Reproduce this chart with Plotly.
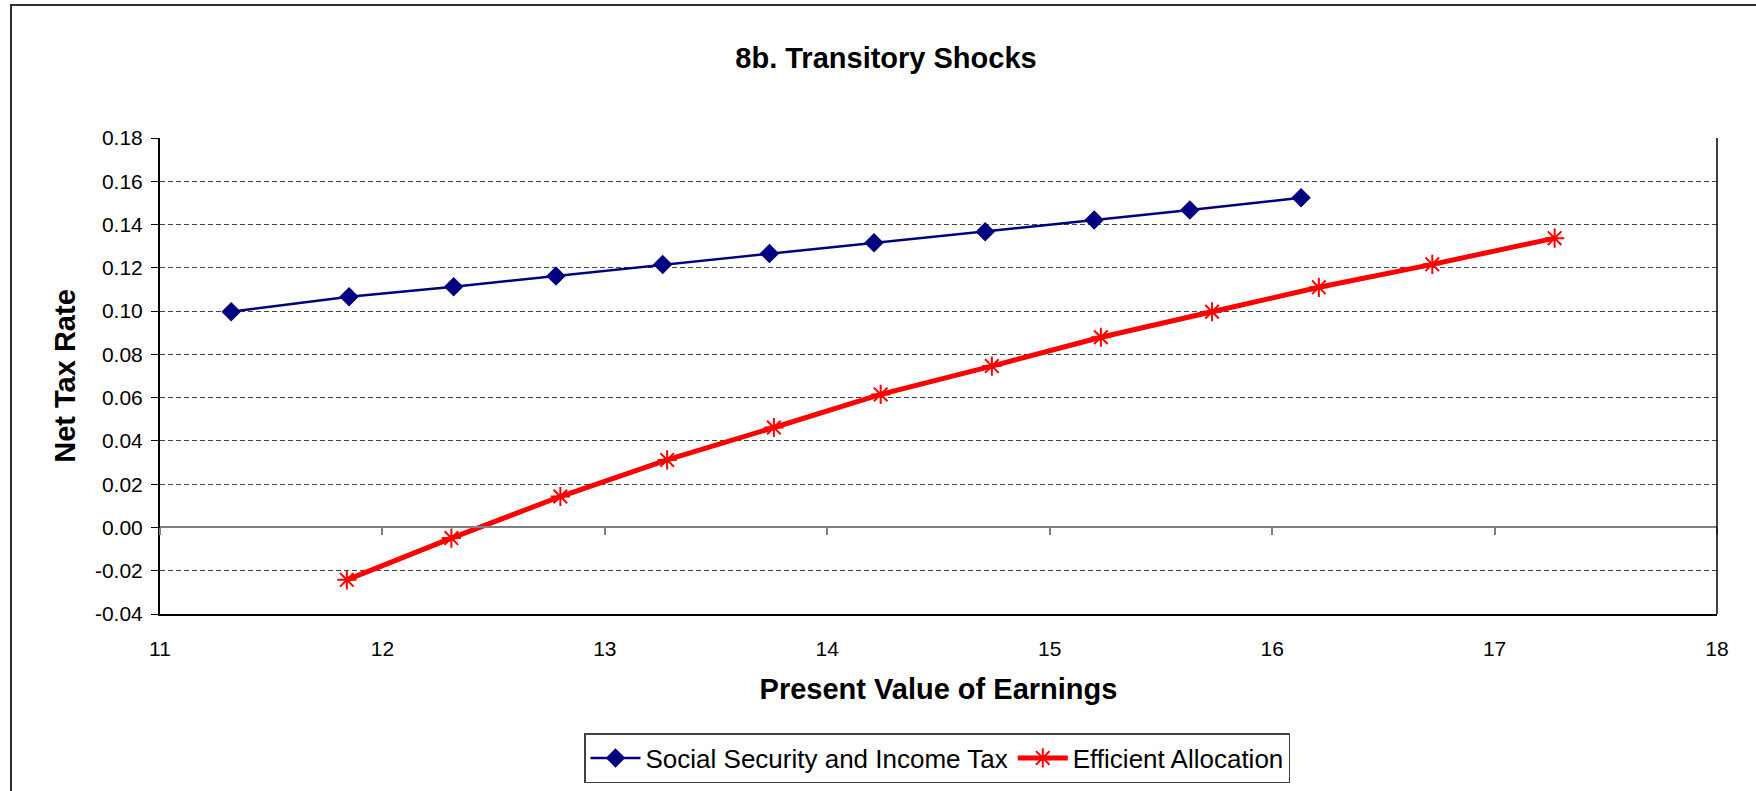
import plotly.graph_objects as go

# Social Security and Income Tax
ss_x = [11.32, 11.85, 12.32, 12.78, 13.26, 13.74, 14.21, 14.71, 15.20, 15.63, 16.13]
ss_y = [0.0997, 0.1066, 0.1113, 0.1162, 0.1215, 0.1266, 0.1316, 0.1367, 0.1421, 0.1467, 0.1524]

# Efficient Allocation
eff_x = [11.84, 12.31, 12.80, 13.28, 13.76, 14.24, 14.74, 15.23, 15.73, 16.21, 16.72, 17.27]
eff_y = [-0.0242, -0.0049, 0.0143, 0.0312, 0.0462, 0.0615, 0.0746, 0.0879, 0.0997, 0.1110, 0.1216, 0.1337]

x_range = [11, 18]
y_range = [-0.04, 0.18]
y_ticks = [-0.04, -0.02, 0.0, 0.02, 0.04, 0.06, 0.08, 0.10, 0.12, 0.14, 0.16, 0.18]
y_labels = [f"{v:.2f}" for v in y_ticks]  # plain hyphen for negatives, like the original

FONT = "Arial, Liberation Sans, sans-serif"
W, H = 1756, 791
L, R, T, B = 160, 39, 138, 177
pw, ph = W - L - R, H - T - B

fig = go.Figure()
fig.add_trace(go.Scatter(
    x=ss_x, y=ss_y, mode="lines+markers", name="Social Security and Income Tax",
    line=dict(color="#000080", width=2.5),
    marker=dict(symbol="diamond", size=15, color="#000080"),
))
fig.add_trace(go.Scatter(
    x=eff_x, y=eff_y, mode="lines+markers", name="Efficient Allocation", xaxis="x2",
    line=dict(color="#FF0000", width=5),
    marker=dict(symbol="asterisk-open", size=16, color="#FF0000", line=dict(color="#FF0000", width=2)),
))

zero_pos = (0 - y_range[0]) / (y_range[1] - y_range[0])

fig.update_layout(
    width=W, height=H,
    margin=dict(l=L, r=R, t=T, b=B, autoexpand=False),
    paper_bgcolor="white", plot_bgcolor="white",
    font=dict(family=FONT, color="black"),
    title=dict(text="<b>8b. Transitory Shocks</b>", x=886 / W, xref="container", xanchor="center",
               y=1 - 58 / H, yref="container", yanchor="middle", font=dict(size=29)),
    xaxis=dict(
        range=x_range, dtick=1, tick0=11, ticks="", showgrid=False, zeroline=False,
        showline=True, linecolor="black", linewidth=1.5, automargin=False,
        tickfont=dict(size=21), ticklabelstandoff=15,
        title=dict(text="<b>Present Value of Earnings</b>", font=dict(size=29), standoff=20),
    ),
    xaxis2=dict(
        range=x_range, dtick=1, tick0=11, overlaying="x", anchor="free", position=zero_pos,
        ticks="outside", ticklen=7, tickcolor="#808080", tickwidth=1.5,
        showline=True, linecolor="#808080", linewidth=1.5, automargin=False,
        showticklabels=False, showgrid=False, zeroline=False,
    ),
    yaxis=dict(
        range=y_range, tickvals=y_ticks, ticktext=y_labels,
        ticks="outside", ticklen=7, tickcolor="black", tickwidth=1,
        showline=True, linecolor="black", linewidth=2, automargin=False,
        showgrid=True, gridcolor="#444444", gridwidth=1, griddash="5px,3px",
        zeroline=False, tickfont=dict(size=21), ticklabelstandoff=4,
        title=dict(text="<b>Net Tax Rate</b>", font=dict(size=29), standoff=11),
    ),
    legend=dict(
        orientation="h", x=937 / W, xref="container", xanchor="center",
        y=1 - 733 / H, yref="container", yanchor="top",
        font=dict(size=26), bordercolor="#404040", borderwidth=1.5, bgcolor="white",
        itemwidth=50, tracegroupgap=0,
    ),
    showlegend=True,
)

# right edge of the plot area
fig.add_shape(type="line", xref="paper", yref="paper", x0=1, x1=1, y0=0, y1=1,
              line=dict(color="black", width=1.5))
# outer chart border (runs off the right and bottom edges like the original)
fig.add_shape(type="rect", xref="paper", yref="paper",
              x0=(11 - L) / pw, x1=(W + 10 - L) / pw,
              y0=-(B + 10) / ph, y1=(ph + T - 5) / ph,
              line=dict(color="#303030", width=2), fillcolor="rgba(0,0,0,0)", layer="below")

# drop the browser's default 8px body margin so the figure sits at the page origin
fig.write_html("out.html", config={"displayModeBar": False},
               post_script="document.body.style.margin='0';")
